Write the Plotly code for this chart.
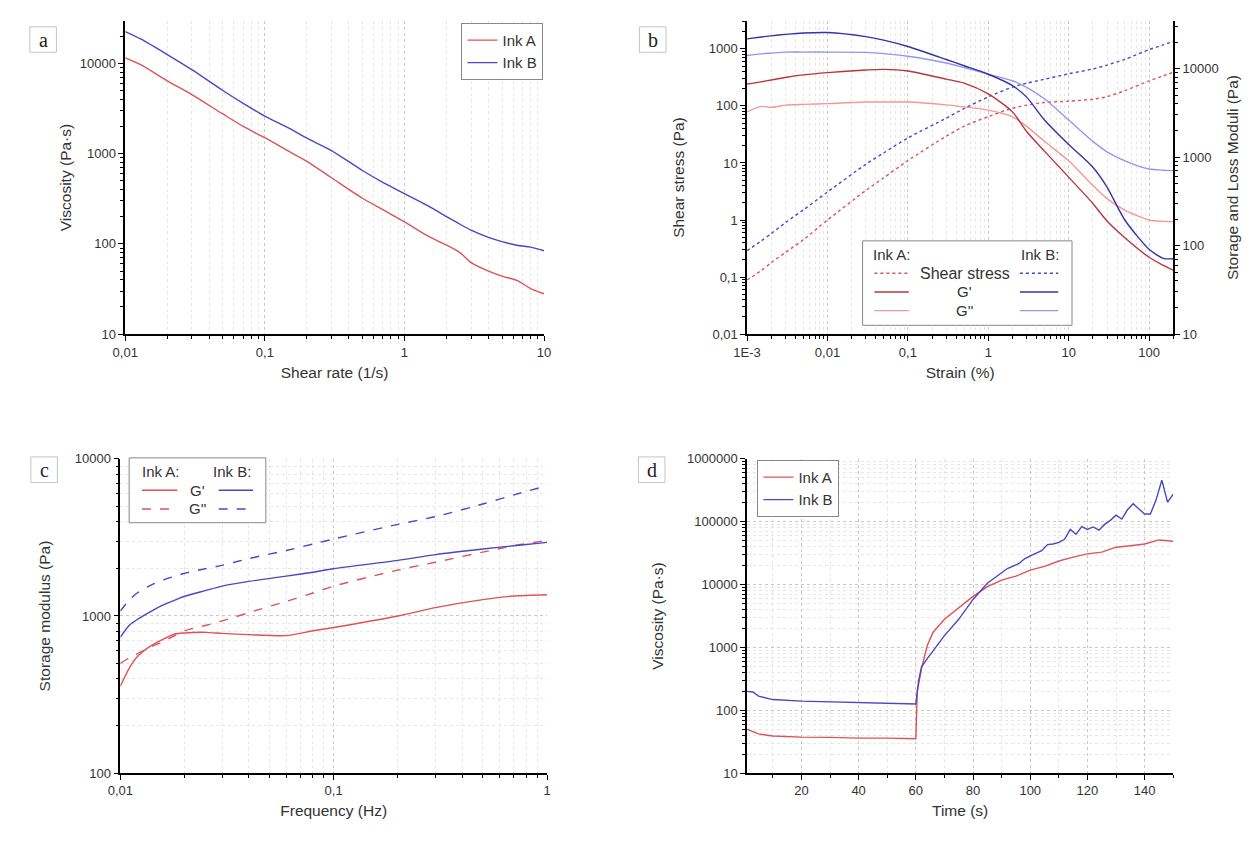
import plotly.graph_objects as go

# ---------------- data ----------------
# a) viscosity vs shear rate
shear_rate = [0.01, 0.013, 0.02, 0.03, 0.05, 0.07, 0.1, 0.15, 0.2, 0.3, 0.5, 0.7,
              1, 1.5, 2, 2.5, 3, 4, 5, 6.5, 8, 10]
visc_a = [11500, 9600, 6400, 4500, 2750, 2000, 1500, 1050, 820, 540, 320, 240,
          175, 120, 97, 80, 62, 50, 44, 39, 32, 28]
visc_b = [22500, 18500, 12500, 8500, 5000, 3600, 2600, 1900, 1480, 1080, 650, 480,
          360, 260, 200, 165, 142, 118, 106, 96, 92, 84]

# b) amplitude sweep
strain = [0.001, 0.0015, 0.002, 0.003, 0.005, 0.01, 0.03, 0.05, 0.1, 0.3, 0.5,
          1, 2, 3, 5, 10, 20, 30, 50, 100, 150, 200]
stress_a = [0.089, 0.13, 0.18, 0.27, 0.45, 1.0, 3.3, 5.5, 11, 29.5, 44,
            65, 91, 103, 115, 121, 131, 145, 185, 275, 335, 390]
stress_b = [0.29, 0.43, 0.58, 0.9, 1.5, 3.1, 9.5, 15, 27.5, 61, 90,
            144, 214, 250, 293, 366, 444, 520, 656, 970, 1170, 1360]
gp_a = [6700, 7100, 7450, 7960, 8500, 9030, 9660, 9830, 9420, 7620, 6870,
        5190, 3250, 1950, 1170, 595, 300, 190, 123, 74, 60, 53]
gpp_a = [3250, 3750, 3650, 3870, 3950, 4030, 4200, 4200, 4200, 3900, 3700,
         3400, 2860, 2230, 1510, 910, 480, 340, 252, 195, 188, 187]
gp_b = [21700, 22800, 23500, 24400, 25300, 25600, 23000, 21000, 17800, 12700, 10800,
        8650, 6430, 4770, 2630, 1390, 770, 460, 195, 91, 72, 71]
gpp_b = [14100, 14700, 15000, 15400, 15400, 15400, 15300, 14800, 13800, 11600, 10300,
         8650, 7300, 6160, 4570, 2630, 1510, 1150, 910, 735, 712, 705]

# c) frequency sweep
freq = [0.01, 0.011, 0.012, 0.014, 0.016, 0.018, 0.02, 0.025, 0.03, 0.04, 0.06,
        0.08, 0.1, 0.2, 0.3, 0.5, 0.7, 1]
fs_gp_a = [357, 464, 550, 650, 715, 768, 780, 787, 775, 761, 750,
           805, 845, 1000, 1130, 1270, 1340, 1365]
fs_gpp_a = [500, 540, 575, 640, 690, 750, 805, 870, 930, 1050, 1240,
            1400, 1550, 1960, 2200, 2550, 2800, 3030]
fs_gp_b = [733, 870, 950, 1075, 1180, 1260, 1335, 1450, 1550, 1660, 1795,
           1900, 2000, 2260, 2460, 2670, 2800, 2940]
fs_gpp_b = [1075, 1260, 1400, 1580, 1700, 1790, 1870, 2000, 2100, 2320, 2610,
            2870, 3090, 3830, 4290, 5160, 5900, 6750]

# d) recovery test
time_a = [1, 5, 10, 20, 30, 40, 50, 60, 60.5, 62, 64, 66, 70, 75, 80, 85, 90,
          95, 100, 105, 110, 115, 120, 125, 130, 135, 140, 145, 150]
recov_a = [50, 42, 39, 37.4, 37, 36, 36, 35.2, 200, 465, 1070, 1730, 2800, 4270,
           6500, 9300, 11800, 13600, 17000, 19500, 23700, 27300, 30800, 32800,
           39300, 41500, 44300, 51300, 49000]
time_b = [1, 3, 5, 10, 20, 30, 40, 50, 56, 60, 61, 62, 64, 66, 70, 75, 80, 85,
          88, 92, 96, 98, 100, 104, 106, 108, 110, 112, 114, 116, 118, 120, 122,
          124, 126, 128, 130, 132, 134, 136, 138, 140, 142, 144, 146, 148, 150]
recov_b = [200, 195, 168, 148, 140, 136, 132, 129, 124, 126, 300, 490, 665, 890,
           1540, 2800, 5800, 10500, 13300, 18000, 21500, 25700, 28700, 34600,
           43200, 44300, 46900, 52500, 75400, 63000, 83500, 75400, 82600, 73300,
           90600, 105000, 127000, 110000, 155000, 193000, 159000, 133000, 133000,
           223000, 458000, 205000, 274000]

# ---------------- styling ----------------
# the page body has an 8px margin, so the figure is drawn 8px smaller and
# every position below is given in screenshot pixels
OFF = 8
W, H = 1254 - OFF, 842 - OFF
RED = "rgb(222,82,88)"
BLUE = "rgb(72,72,196)"
RED_DARK = "rgb(186,52,62)"
RED_LIGHT = "rgb(242,152,152)"
BLUE_DARK = "rgb(52,52,165)"
BLUE_LIGHT = "rgb(150,150,236)"
FONT = "Liberation Sans"
TXT = "#333333"
GRID_MAJ = "#c8c8c8"
GRID_MIN = "#e6e6e6"


def px(x):
    return (x - OFF) / W


def py(y):
    return 1 - (y - OFF) / H


def log_minor(lo, hi):
    vals = []
    for e in range(lo, hi):
        for m in range(2, 10):
            vals.append(m * 10 ** e)
    return vals


def lin(x, y, name, color, axes, dash="solid", legend=None, width=1.4, smooth=True):
    return go.Scatter(x=x, y=y, name=name, mode="lines",
                      line=dict(color=color, width=width, dash=dash,
                                shape="spline" if smooth else "linear",
                                smoothing=0.7),
                      xaxis=axes[0], yaxis=axes[1],
                      showlegend=legend is not None,
                      legend=legend or "legend")


fig = go.Figure()

# a
fig.add_trace(lin(shear_rate, visc_a, "Ink A", RED, ("x", "y"), legend="legend"))
fig.add_trace(lin(shear_rate, visc_b, "Ink B", BLUE, ("x", "y"), legend="legend"))
# b
fig.add_trace(lin(strain, stress_a, "A stress", RED, ("x2", "y2"), dash="dot"))
fig.add_trace(lin(strain, stress_b, "B stress", BLUE, ("x2", "y2"), dash="dot"))
fig.add_trace(lin(strain, gpp_a, "A G''", RED_LIGHT, ("x2", "y3")))
fig.add_trace(lin(strain, gpp_b, "B G''", BLUE_LIGHT, ("x2", "y3")))
fig.add_trace(lin(strain, gp_a, "A G'", RED_DARK, ("x2", "y3")))
fig.add_trace(lin(strain, gp_b, "B G'", BLUE_DARK, ("x2", "y3")))
# c
fig.add_trace(lin(freq, fs_gp_a, "A G'", RED, ("x3", "y4")))
fig.add_trace(lin(freq, fs_gpp_a, "A G''", RED, ("x3", "y4"), dash="dash"))
fig.add_trace(lin(freq, fs_gp_b, "B G'", BLUE, ("x3", "y4")))
fig.add_trace(lin(freq, fs_gpp_b, "B G''", BLUE, ("x3", "y4"), dash="dash"))
# d
fig.add_trace(lin(time_a, recov_a, "Ink A", RED, ("x4", "y5"), legend="legend2", smooth=False))
fig.add_trace(lin(time_b, recov_b, "Ink B", BLUE, ("x4", "y5"), legend="legend2", smooth=False))


def axis(**kw):
    base = dict(showline=True, linecolor="black", linewidth=1.5, ticks="outside",
                ticklen=5, tickwidth=1.3, tickcolor="black", zeroline=False,
                showgrid=False, mirror=False,
                tickfont=dict(family=FONT, size=13, color=TXT),
                title_font=dict(family=FONT, size=15.5, color=TXT))
    base.update(kw)
    return base


def minor(vals, grid=False, color=GRID_MIN):
    return dict(tickmode="array", tickvals=vals, ticks="outside", ticklen=3,
                tickwidth=1, tickcolor="black", showgrid=grid,
                gridcolor=color, griddash="dot", gridwidth=1)


top = (py(333), py(14))
bot = (py(780), py(460))

fig.update_layout(
    width=W, height=H, margin=dict(l=0, r=0, t=0, b=0),
    paper_bgcolor="white", plot_bgcolor="white",
    font=dict(family=FONT, color=TXT),
    # ---- a
    xaxis=axis(type="log", domain=[px(113), px(539)], range=[-2, 1], anchor="y",
               tickvals=[0.01, 0.1, 1, 10], ticktext=["0,01", "0,1", "1", "10"],
               showgrid=True, gridcolor=GRID_MAJ, griddash="dot",
               minor=minor(log_minor(-2, 1), grid=True),
               title_text="Shear rate (1/s)", title_standoff=9),
    yaxis=axis(type="log", domain=list(top), range=[1, 4.47], anchor="x",
               tickvals=[10, 100, 1000, 10000], ticktext=["10", "100", "1000", "10000"],
               minor=minor(log_minor(1, 5)),
               title_text="Viscosity (Pa·s)", title_standoff=4),
    # ---- b
    xaxis2=axis(type="log", domain=[px(745.5), px(1179)], range=[-3, 2.301], anchor="y2",
                tickvals=[0.001, 0.01, 0.1, 1, 10, 100],
                ticktext=["1E-3", "0,01", "0,1", "1", "10", "100"],
                showgrid=True, gridcolor=GRID_MAJ, griddash="dot",
                minor=minor(log_minor(-3, 3), grid=True),
                title_text="Strain (%)", title_standoff=9),
    yaxis2=axis(type="log", domain=list(top), range=[-2, 3.49], anchor="x2",
                tickvals=[0.01, 0.1, 1, 10, 100, 1000],
                ticktext=["0,01", "0,1", "1", "10", "100", "1000"],
                minor=minor(log_minor(-2, 4)),
                title_text="Shear stress (Pa)", title_standoff=20),
    yaxis3=axis(type="log", range=[1, 4.54], anchor="x2", overlaying="y2", side="right",
                tickvals=[10, 100, 1000, 10000], ticktext=["10", "100", "1000", "10000"],
                minor=minor(log_minor(1, 5)),
                title_text="Storage and Loss Moduli (Pa)", title_standoff=9),
    # ---- c
    xaxis3=axis(type="log", domain=[px(108), px(542)], range=[-2, 0], anchor="y4",
                tickvals=[0.01, 0.1, 1], ticktext=["0,01", "0,1", "1"],
                showgrid=True, gridcolor=GRID_MAJ, griddash="dot",
                minor=minor(log_minor(-2, 0), grid=True),
                title_text="Frequency (Hz)", title_standoff=8),
    yaxis4=axis(type="log", domain=list(bot), range=[2, 4], anchor="x3",
                tickvals=[100, 1000, 10000], ticktext=["100", "1000", "10000"],
                showgrid=True, gridcolor=GRID_MAJ, griddash="dot",
                minor=minor(log_minor(2, 4), grid=True),
                title_text="Storage modulus (Pa)", title_standoff=20),
    # ---- d
    xaxis4=axis(domain=[px(745.5), px(1179)], range=[1, 150], anchor="y5",
                tickvals=[20, 40, 60, 80, 100, 120, 140],
                showgrid=True, gridcolor=GRID_MAJ, griddash="dot",
                minor=dict(tick0=0, dtick=10, ticks="outside", ticklen=3, tickwidth=1,
                           tickcolor="black", showgrid=True, gridcolor=GRID_MIN,
                           griddash="dot"),
                title_text="Time (s)", title_standoff=8),
    yaxis5=axis(type="log", domain=list(bot), range=[1, 6], anchor="x4",
                tickvals=[10, 100, 1000, 10000, 100000, 1000000],
                ticktext=["10", "100", "1000", "10000", "100000", "1000000"],
                showgrid=True, gridcolor=GRID_MAJ, griddash="dot",
                minor=minor(log_minor(1, 6), grid=True),
                title_text="Viscosity (Pa·s)", title_standoff=20),
    legend=dict(x=px(455), y=py(16), xanchor="left", yanchor="top",
                bgcolor="white", bordercolor="#888", borderwidth=1,
                font=dict(family=FONT, size=15, color=TXT), tracegroupgap=0),
    legend2=dict(x=px(756), y=py(461), xanchor="left", yanchor="top",
                 bgcolor="white", bordercolor="#888", borderwidth=1,
                 font=dict(family=FONT, size=15, color=TXT), tracegroupgap=0),
)

shapes = []
annots = []

# panel letters
for letter, x0, y0 in [("a", 16, 20), ("b", 636, 20), ("c", 17, 458), ("d", 635, 458)]:
    shapes.append(dict(type="rect", xref="paper", yref="paper",
                       x0=px(x0), x1=px(x0 + 27), y0=py(y0), y1=py(y0 + 26),
                       line=dict(color="#c4c4c4", width=1), fillcolor="white"))
    annots.append(dict(xref="paper", yref="paper", x=px(x0 + 13.5), y=py(y0 + 13),
                       xanchor="center", yanchor="middle",
                       text=letter, showarrow=False,
                       font=dict(family="Liberation Serif", size=20, color="#222")))


def text(x, y, s, size=15):
    annots.append(dict(xref="paper", yref="paper", x=px(x), y=py(y), text=s,
                       xanchor="center", yanchor="middle",
                       showarrow=False, font=dict(family=FONT, size=size, color=TXT)))


def sample(x0, x1, y, color, dash):
    shapes.append(dict(type="line", xref="paper", yref="paper",
                       x0=px(x0), x1=px(x1), y0=py(y), y1=py(y),
                       line=dict(color=color, width=1.4, dash=dash)))


# legend box of panel b
shapes.append(dict(type="rect", xref="paper", yref="paper",
                   x0=px(863), x1=px(1076), y0=py(238), y1=py(324),
                   line=dict(color="#888", width=1), fillcolor="white", layer="above"))
text(893, 252, "Ink A:")
text(1043, 252, "Ink B:")
text(967, 271, "Shear stress", 16)
text(967, 290, "G'")
text(967, 309, "G''")
sample(875, 910, 271, RED, "dot")
sample(1023, 1062, 271, BLUE, "dot")
sample(875, 910, 290, RED_DARK, "solid")
sample(1023, 1062, 290, BLUE_DARK, "solid")
sample(875, 910, 309, RED_LIGHT, "solid")
sample(1023, 1062, 309, BLUE_LIGHT, "solid")

# legend box of panel c
shapes.append(dict(type="rect", xref="paper", yref="paper",
                   x0=px(117), x1=px(256), y0=py(459), y1=py(525),
                   line=dict(color="#888", width=1), fillcolor="white", layer="above"))
text(149, 473, "Ink A:")
text(222, 473, "Ink B:")
text(187, 492, "G'")
text(187, 511, "G''")
sample(130, 166, 492, RED, "solid")
sample(208, 243, 492, BLUE, "solid")
sample(130, 166, 511, RED, "dash")
sample(208, 243, 511, BLUE, "dash")

fig.update_layout(shapes=shapes, annotations=annots)

fig.write_html("out.html")
